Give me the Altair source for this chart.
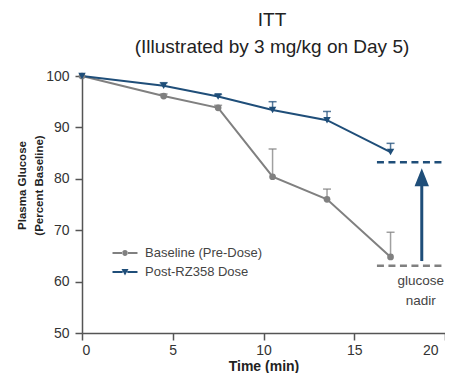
import altair as alt
import pandas as pd

# ---- data ----
times = [0, 4.5, 7.5, 10.5, 13.5, 17]
series_names = ["Baseline (Pre-Dose)", "Post-RZ358 Dose"]
baseline_vals = [100, 96.1, 93.8, 80.4, 76.0, 64.8]
baseline_err = [0, 0.4, 0.5, 5.4, 2.0, 4.8]
post_vals = [100, 98.1, 96.0, 93.4, 91.4, 85.2]
post_err = [0, 0.6, 0.4, 1.6, 1.7, 1.7]
colors = ["#808080", "#1f4e79"]

# annotation values
nadir_levels = [63.1, 83.2]          # baseline nadir, post-dose nadir
nadir_x = [16.25, 20.2]
arrow_x = [18.72]
arrow_y = [64.0, 79.0]
arrow_head_y = [80.3]
note_y = [61.5]
note_text = ["glucose\nnadir"]

rows = []
for name, vals, errs in [(series_names[0], baseline_vals, baseline_err),
                         (series_names[1], post_vals, post_err)]:
    for t, v, e in zip(times, vals, errs):
        rows.append({"series": name, "time": t, "value": v, "err": e, "upper": v + e})
df = pd.DataFrame(rows)

dash_df = pd.DataFrame({
    "series": [series_names[0], series_names[1]],
    "y": nadir_levels,
    "x": [nadir_x[0]] * 2,
    "x2": [nadir_x[1]] * 2,
})
arrow_df = pd.DataFrame({"series": [series_names[1]], "x": arrow_x,
                         "y": [arrow_y[0]], "y2": [arrow_y[1]], "head": arrow_head_y})
note_df = pd.DataFrame({"x": arrow_x, "y": note_y, "text": note_text})

FONT = "Liberation Sans, Arial, sans-serif"

xs = alt.Scale(domain=[0, 20], nice=False)
ys = alt.Scale(domain=[50, 100], nice=False)
# data-driven (sorted) domain: Baseline..., Post-RZ358...
cs = alt.Scale(range=colors)

X = alt.X("time:Q", scale=xs,
          axis=alt.Axis(values=[0, 5, 10, 15, 20], title="Time (min)",
                        titleBaseline="alphabetic", titleY=37,
                        tickSize=7, labelPadding=3,
                        labelOffset=alt.ExprRef(expr="datum.value == 20 ? -7 : 0")))
Y = alt.Y("value:Q", scale=ys,
          axis=alt.Axis(values=[50, 60, 70, 80, 90, 100],
                        title=["Plasma Glucose", "(Percent Baseline)"],
                        titleFontSize=11.5, titleLineHeight=17, titleX=-55, titleY=109,
                        tickSize=7, labelPadding=6))
C = alt.Color("series:N", scale=cs, legend=None)

base = alt.Chart(df)

lines = base.mark_line(strokeWidth=2).encode(x=X, y=Y, color=C)

err_rule = base.transform_filter("datum.err > 0").mark_rule(strokeWidth=1.5, opacity=0.75).encode(
    x="time:Q", y="value:Q", y2="upper:Q", color=C)
err_cap = base.transform_filter("datum.err > 0").mark_tick(
    orient="horizontal", size=8, thickness=1.5, opacity=0.75).encode(
    x="time:Q", y="upper:Q", color=C)

pts_base = base.transform_filter(alt.datum.series == series_names[0]).mark_point(
    shape="circle", filled=True, size=45, opacity=1).encode(x="time:Q", y="value:Q", color=C)
pts_post = base.transform_filter(alt.datum.series == series_names[1]).mark_point(
    shape="triangle-down", filled=True, size=55, opacity=1).encode(x="time:Q", y="value:Q", color=C)

# legend symbols: line segment with marker
leg_circle = ("M-1.6,-0.13 L-0.31,-0.13 L-0.31,0.13 L-1.6,0.13 Z "
              "M0.31,-0.13 L1.6,-0.13 L1.6,0.13 L0.31,0.13 Z "
              "M-0.37,0 A0.37,0.37 0 1,0 0.37,0 A0.37,0.37 0 1,0 -0.37,0 Z")
leg_tri = ("M-1.6,-0.13 L-0.3,-0.13 L-0.3,0.13 L-1.6,0.13 Z "
           "M0.3,-0.13 L1.6,-0.13 L1.6,0.13 L0.3,0.13 Z "
           "M-0.45,-0.37 L0.45,-0.37 L0,0.45 Z")
LEG = dict(title=None, orient="none", legendX=35, legendY=169, labelFontSize=13,
           labelFont=FONT, labelColor="#444", symbolSize=244, labelOffset=12,
           rowPadding=4, padding=0, symbolStrokeWidth=0)
legend_layer = base.transform_filter("false").mark_point(filled=True, opacity=1).encode(
    x="time:Q", y="value:Q",
    fill=alt.Fill("series:N", scale=alt.Scale(domain=series_names, range=colors),
                  legend=alt.Legend(**LEG)),
    shape=alt.Shape("series:N", scale=alt.Scale(domain=series_names, range=[leg_circle, leg_tri]),
                    legend=alt.Legend(**LEG)),
)

dashes = alt.Chart(dash_df).mark_rule(strokeDash=[7, 4.5], strokeWidth=2.5, clip=False).encode(
    x="x:Q", x2="x2:Q", y="y:Q", color=C)
arrow = alt.Chart(arrow_df).mark_rule(strokeWidth=3).encode(
    x="x:Q", y="y:Q", y2="y2:Q", color=C)
arrow_head = alt.Chart(arrow_df).mark_point(
    shape="M-0.8,1 L0,-1 L0.8,1 Z", filled=True, size=324, opacity=1).encode(
    x="x:Q", y="head:Q", color=C)
note = alt.Chart(note_df).mark_text(
    lineBreak="\n", align="center", baseline="top", fontSize=13.5, font=FONT,
    color="#444", lineHeight=20, clip=False, dx=-1).encode(x="x:Q", y="y:Q", text="text:N")

chart = alt.layer(
    lines, err_rule, err_cap, pts_base, pts_post, dashes, arrow, arrow_head, note, legend_layer
).properties(
    width=363, height=257,
    autosize=alt.AutoSizeParams(type="none"),
    padding={"left": 74, "top": 68, "right": 0, "bottom": 40},
    title=alt.TitleParams(
        text="ITT", subtitle="(Illustrated by 3 mg/kg on Day 5)",
        fontSize=19, subtitleFontSize=19, font=FONT, subtitleFont=FONT,
        fontWeight="normal", color="#222", subtitleColor="#222",
        anchor="middle", dx=8.5, offset=12, subtitlePadding=8,
    ),
).configure_view(stroke=None).configure_axis(
    grid=False, domainColor="#555", domainWidth=1.5, tickColor="#555", tickWidth=1.5,
    labelColor="#333", labelFontSize=14, labelFont=FONT, titleFont=FONT,
    titleFontSize=14, titleFontWeight="bold", titleColor="#222",
)

chart.save("out.html", embed_options={"renderer": "svg", "actions": False})
